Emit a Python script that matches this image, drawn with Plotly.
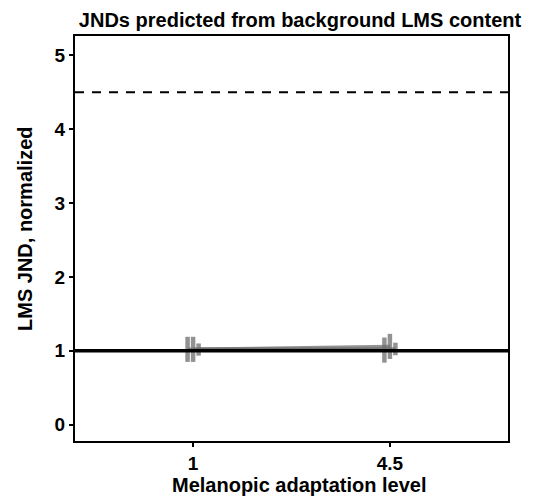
import plotly.graph_objects as go

# Melanopic adaptation levels (categorical x axis)
levels = ["1", "4.5"]

# Normalized LMS JND per series: means with lower / upper interval bounds
series_names = ["L", "M", "S"]
jnd_mean = [[1.02, 1.01], [1.02, 1.06], [1.02, 1.025]]
jnd_low = [[0.85, 0.84], [0.85, 0.89], [0.935, 0.94]]
jnd_high = [[1.19, 1.18], [1.19, 1.23], [1.10, 1.11]]

# Reference levels
unity_level = 1.0
ceiling_level = 4.5

dodge = [-0.028, 0.0, 0.028]
gray = "rgba(110,110,110,0.75)"
font_family = "Liberation Sans, Arial, sans-serif"
W, H = 550, 502
ML, MR, MT, MB = 75, 42, 36, 61

fig = go.Figure()
positions = list(range(1, len(levels) + 1))

for i, name in enumerate(series_names):
    xs = [p + dodge[i] for p in positions]
    m = jnd_mean[i]
    fig.add_trace(go.Scatter(
        x=xs, y=m, mode="lines", name=name,
        line=dict(color=gray, width=3.5),
        error_y=dict(
            type="data", symmetric=False,
            array=[h - v for h, v in zip(jnd_high[i], m)],
            arrayminus=[v - l for l, v in zip(jnd_low[i], m)],
            color=gray, thickness=4.5, width=0,
        ),
        showlegend=False, hoverinfo="skip",
    ))

fig.add_hline(y=unity_level, line=dict(color="black", width=3.5), layer="above")
fig.add_hline(y=ceiling_level, line=dict(color="black", width=2, dash="9px,8px"), layer="above")

axis_common = dict(
    showline=True, linecolor="black", linewidth=2, mirror=True,
    ticks="outside", ticklen=4, tickwidth=2, tickcolor="black",
    showgrid=False, zeroline=False,
    tickfont=dict(family=font_family, size=19, color="black", weight="bold"),
)

title_font = dict(family=font_family, size=20, color="black", weight="bold")

# Axis titles placed as paper annotations
fig.add_annotation(
    text="Melanopic adaptation level", font=title_font, showarrow=False,
    xref="paper", yref="paper",
    x=(299 - ML) / (W - ML - MR), y=-(485 - (H - MB)) / (H - MT - MB),
    xanchor="center", yanchor="middle",
)
fig.add_annotation(
    text="LMS JND, normalized", font=title_font, showarrow=False, textangle=-90,
    xref="paper", yref="paper",
    x=-(ML - 25) / (W - ML - MR), y=((H - MB) - 229) / (H - MT - MB),
    xanchor="center", yanchor="middle",
)

fig.update_layout(
    width=W, height=H,
    margin=dict(l=ML, r=MR, t=MT, b=MB),
    paper_bgcolor="white", plot_bgcolor="white",
    title=dict(
        text="JNDs predicted from background LMS content",
        font=title_font,
        x=300 / W, xanchor="center", y=1 - 19.5 / H, yanchor="middle",
    ),
    xaxis=dict(**axis_common, range=[0.4, 2.6], tickvals=positions, ticktext=levels),
    yaxis=dict(**axis_common, range=[-0.22, 5.26], tickvals=[0, 1, 2, 3, 4, 5]),
)

fig.write_html("out.html")
